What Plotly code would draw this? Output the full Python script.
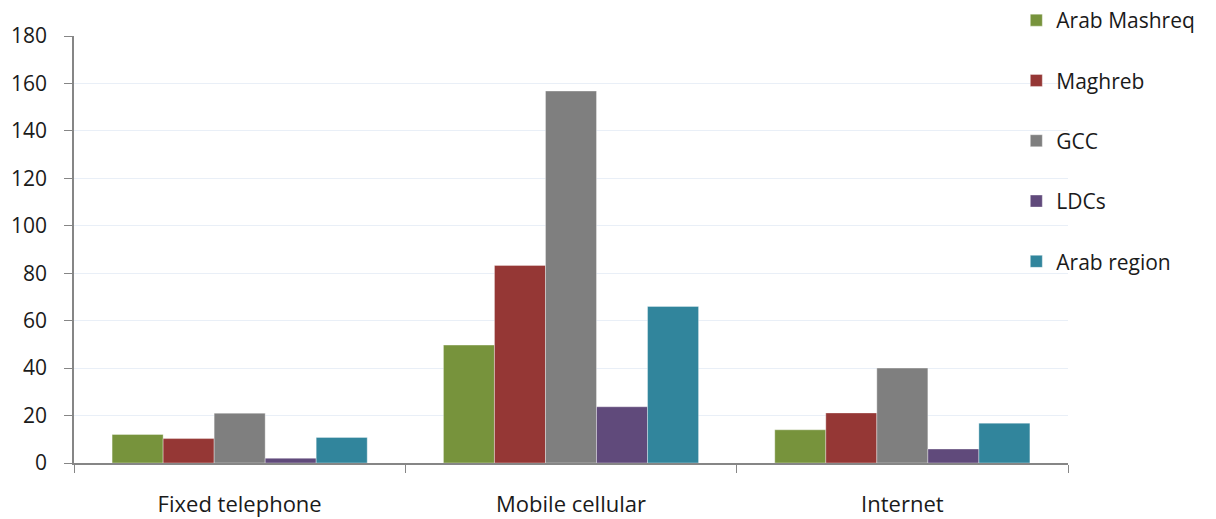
import plotly.graph_objects as go

categories = ["Fixed telephone", "Mobile cellular", "Internet"]
series_names = ["Arab Mashreq", "Maghreb", "GCC", "LDCs", "Arab region"]
arab_mashreq = [12.0, 49.7, 14.0]
maghreb = [10.3, 83.3, 21.1]
gcc = [21.0, 156.8, 40.0]
ldcs = [2.0, 23.7, 5.9]
arab_region = [10.8, 66.0, 16.8]
colors = ["#77933C", "#953735", "#7F7F7F", "#604A7B", "#31859C"]
y_ticks = [0, 20, 40, 60, 80, 100, 120, 140, 160, 180]

values = [arab_mashreq, maghreb, gcc, ldcs, arab_region]
font_family = "Open Sans, Lato, sans-serif"

fig = go.Figure()
for i, (name, vals, col) in enumerate(zip(series_names, values, colors)):
    fig.add_trace(go.Bar(
        x=categories, y=vals, name=name,
        marker=dict(color=col, line=dict(color="rgba(255,255,255,0.35)", width=1)),
        legendgroup=name,
    ))

fig.update_layout(
    width=1208, height=511,
    margin=dict(l=66, r=148, t=28, b=56, autoexpand=False),
    paper_bgcolor="white", plot_bgcolor="white",
    barmode="group", bargap=0.23, bargroupgap=0,
    font=dict(family=font_family, size=21, color="#1a1a1a"),
    showlegend=True,
    legend=dict(x=0.948, y=1.0843, xanchor="left", yanchor="top",
                bgcolor="rgba(0,0,0,0)", traceorder="grouped",
                tracegroupgap=30, font=dict(size=21),
                itemwidth=30, maxheight=600),
)
fig.update_xaxes(
    showline=True, linecolor="#868686", linewidth=1.5,
    ticks="outside", tickson="boundaries", ticklen=8, tickcolor="#868686",
    showgrid=False, tickfont=dict(size=22), ticklabelstandoff=21,
)
fig.update_yaxes(
    range=[0, 180], tickvals=y_ticks,
    showline=True, linecolor="#868686", linewidth=1.5,
    ticks="outside", ticklen=8, tickcolor="#868686",
    showgrid=True, gridcolor="#E9EFF7", gridwidth=1,
    zeroline=False, tickfont=dict(size=21), ticklabelstandoff=13,
)

fig.write_html("out.html")
